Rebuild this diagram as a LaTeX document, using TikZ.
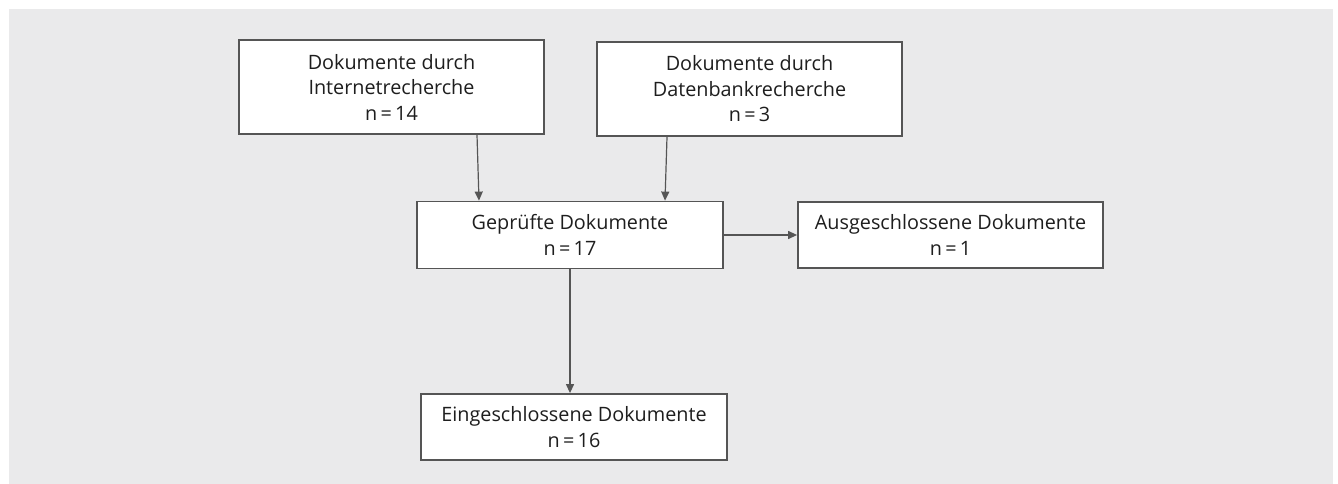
\documentclass[tikz,border=0pt]{standalone}
\usepackage{fontspec}
\setmainfont{Open Sans}
\usetikzlibrary{arrows.meta}
\definecolor{bggray}{HTML}{EAEAEB}
\definecolor{linegray}{HTML}{555555}
\definecolor{textcol}{HTML}{1E1E1E}
\tikzset{
  box/.style={draw=linegray, line width=1.8pt, fill=white, inner sep=0pt,
    minimum width=305pt, align=center, text=textcol,
    font=\fontsize{19.8}{25.5}\selectfont},
  conn/.style={draw=linegray, line width=1.2pt, -{Triangle[length=9pt,width=8pt]}}
}
\begin{document}
\begin{tikzpicture}[x=1pt,y=-1pt]
\useasboundingbox (0,0) rectangle (1338,484);
\fill[bggray] (9,9) rectangle (1333,484);
\node[box, minimum height=94pt] (a) at (391.5,87) {Dokumente durch\\Internetrecherche\\n\,=\,14};
\node[box, minimum height=94pt] (b) at (749.5,89) {Dokumente durch\\Datenbankrecherche\\n\,=\,3};
\node[box, minimum height=67pt, minimum width=306pt] (c) at (570,235) {Geprüfte Dokumente\\n\,=\,17};
\node[box, minimum height=66pt] (d) at (950.5,235) {Ausgeschlossene Dokumente\\n\,=\,1};
\node[box, minimum height=66pt, minimum width=306pt] (e) at (574,427) {Eingeschlossene Dokumente\\n\,=\,16};
\draw[conn] ([xshift=85.5pt]a.south) -- ([xshift=-91pt]c.north);
\draw[conn] ([xshift=-82.5pt]b.south) -- ([xshift=95pt]c.north);
\draw[conn] (c.east) -- (d.west);
\draw[conn] (c.south) -- ([xshift=-4pt]e.north);
\end{tikzpicture}
\end{document}
